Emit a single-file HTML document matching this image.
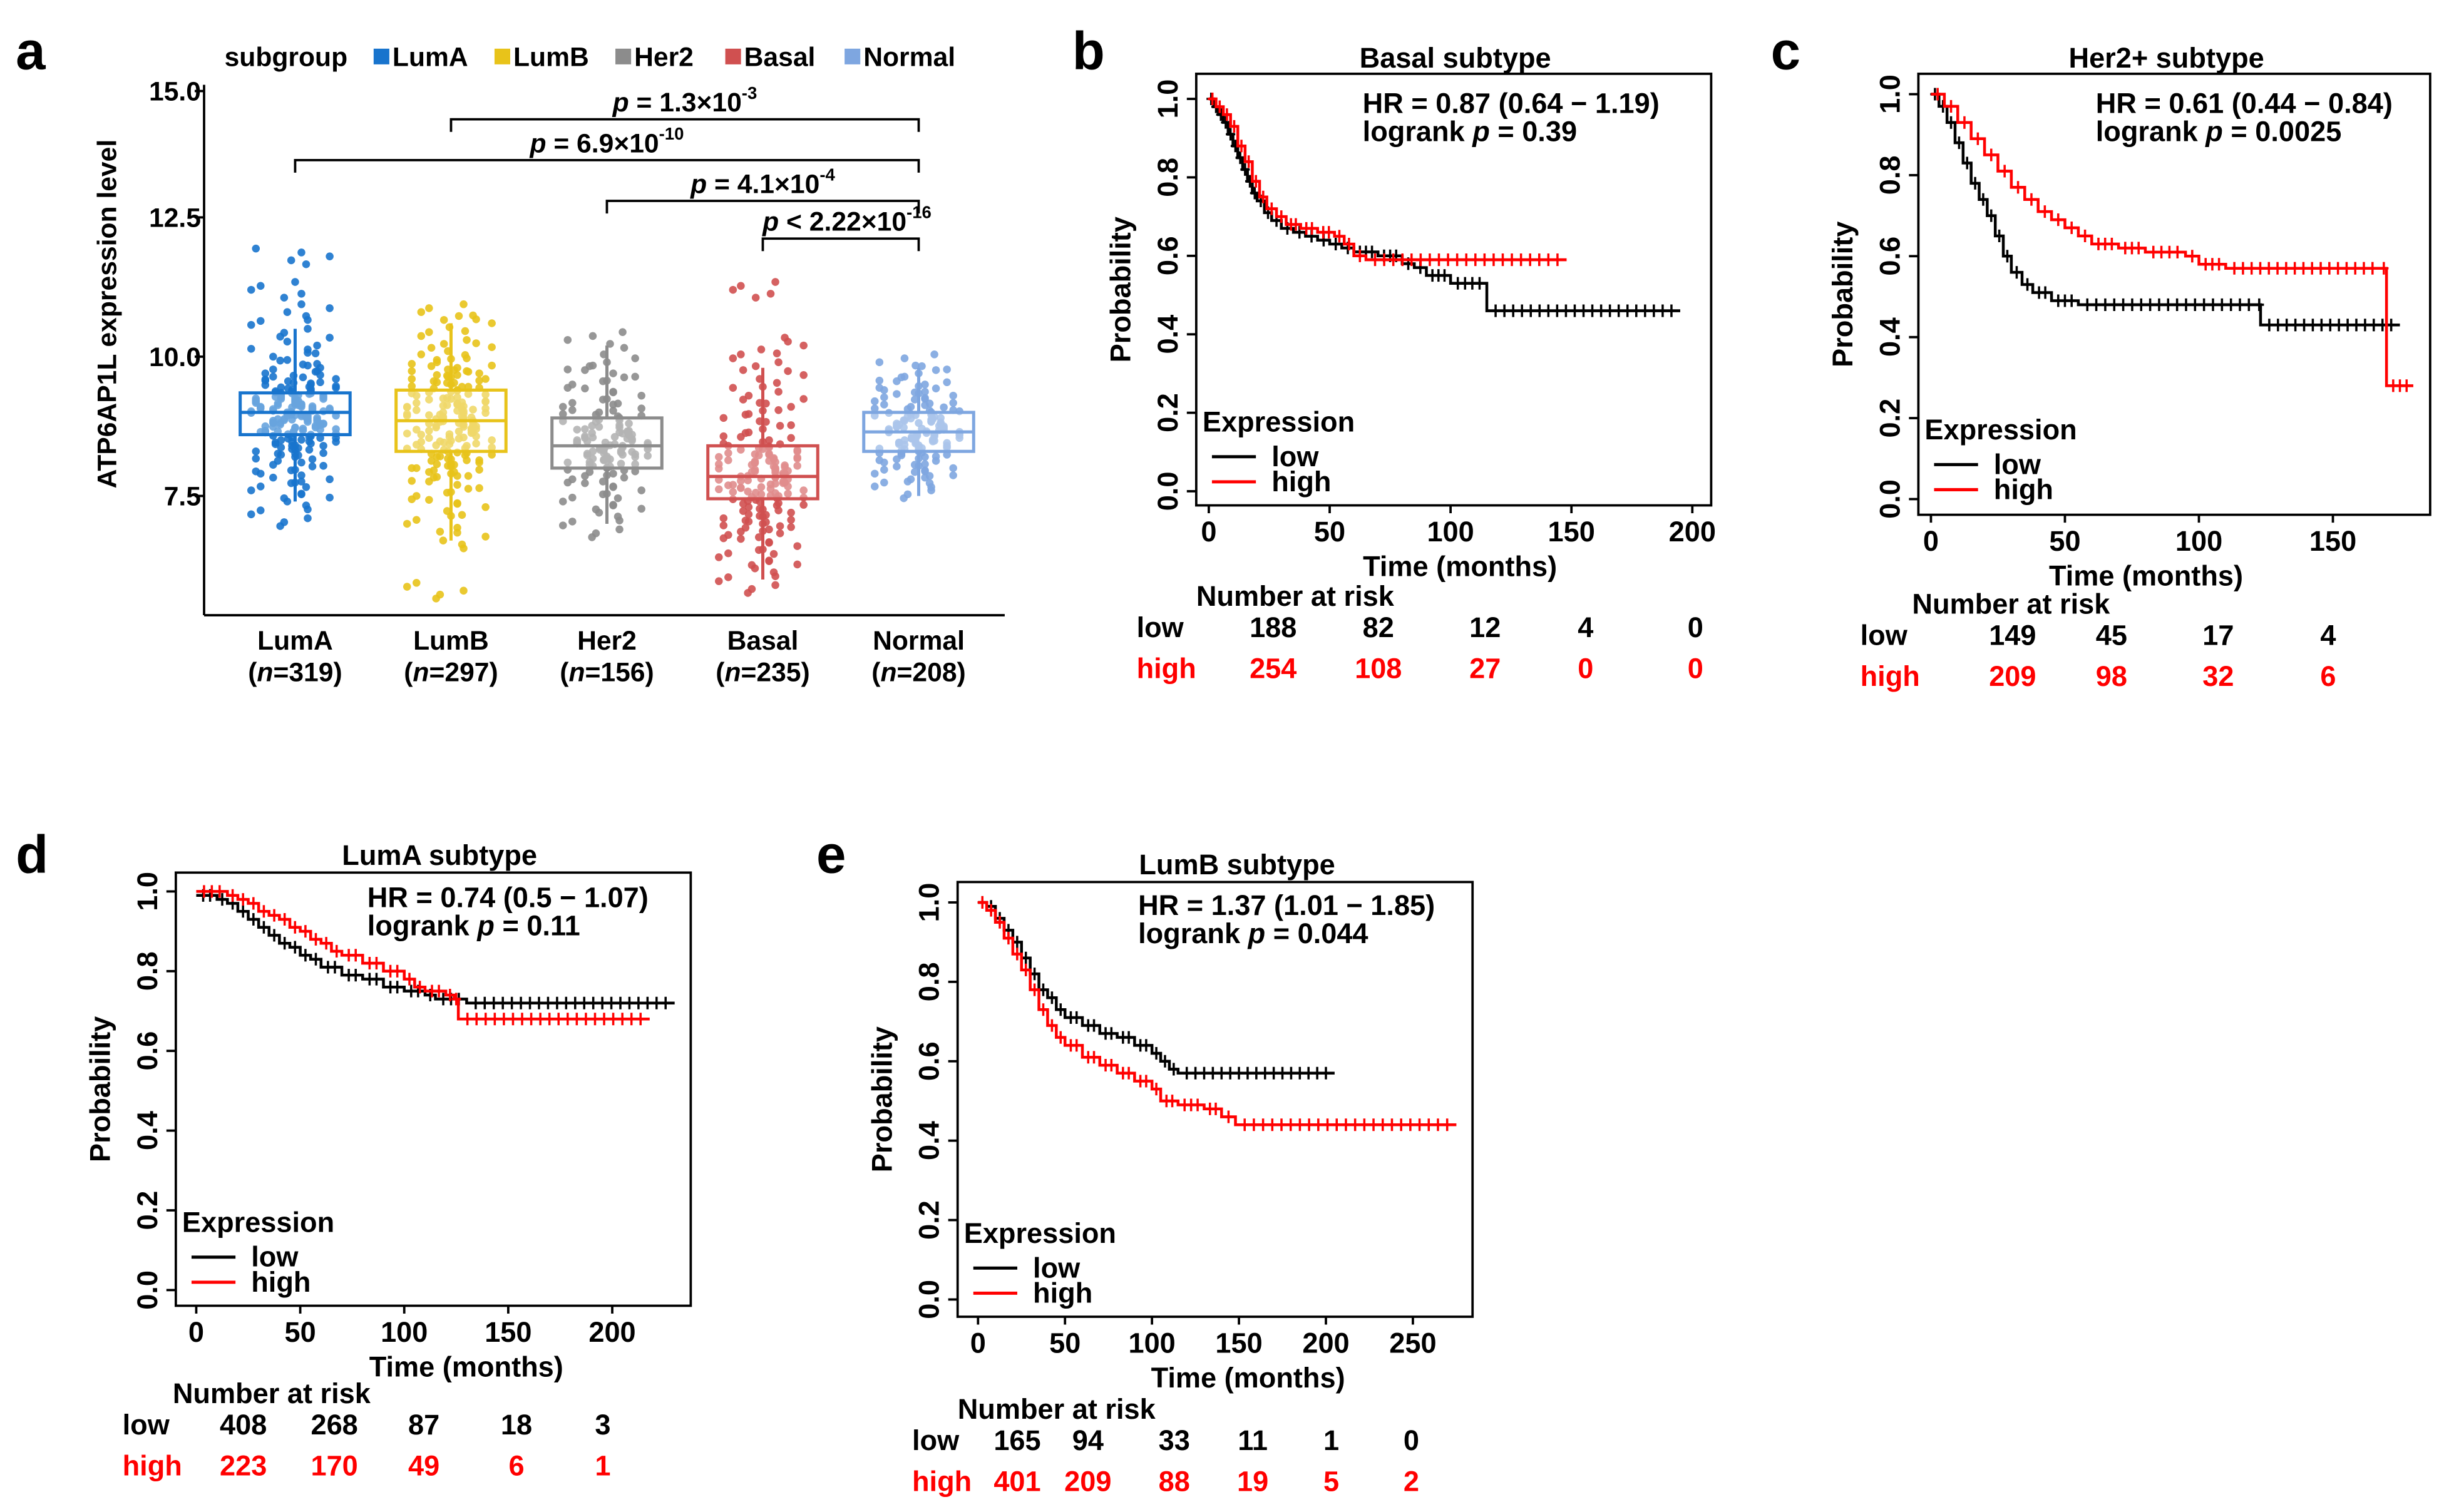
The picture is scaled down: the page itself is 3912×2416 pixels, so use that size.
<!DOCTYPE html>
<html><head><meta charset="utf-8"><style>
html,body{margin:0;padding:0;background:#fff}
svg{display:block}
text{font-family:"Liberation Sans",Arial,sans-serif;font-weight:bold}
</style></head><body>
<svg id="fig" width="3912" height="2416" viewBox="0 0 1560 963.4" xmlns="http://www.w3.org/2000/svg"></svg>
<script>
// ---------- Panel a data ----------
const groups=["LumA","LumB","Her2","Basal","Normal"];
const groupN=[319,297,156,235,208];
const groupColors=["#1874cd","#e8c31a","#8c8c8c","#d05050","#7ea6e0"];
const q1=[8.6,8.3,8.0,7.45,8.3];
const med=[9.0,8.85,8.4,7.85,8.65];
const q3=[9.35,9.4,8.9,8.4,9.0];
const whLo=[7.4,6.7,7.0,6.0,7.5];
const whHi=[10.5,10.6,10.2,9.8,9.8];
const aTicks=[7.5,10.0,12.5,15.0];
const ptsLumA=[7.1,7.4,7.6,7.8,7.9,8.1,8.2,8.3,8.4,8.5,8.55,8.6,8.7,8.75,8.8,8.85,8.9,8.95,9.0,9.0,9.05,9.1,9.15,9.2,9.25,9.3,9.35,9.4,9.5,9.6,9.7,9.8,10.0,10.2,10.5,10.8,11.2,11.8,8.65,9.1,8.95,9.2,8.8,9.45,8.4];
const ptsLumB=[5.8,6.7,7.0,7.3,7.5,7.7,7.9,8.0,8.1,8.2,8.3,8.4,8.5,8.6,8.7,8.8,8.85,8.9,9.0,9.1,9.2,9.3,9.4,9.5,9.6,9.7,9.9,10.1,10.3,10.6,10.8,8.75,8.95,9.05,8.55,9.25,8.35,9.6,8.0,9.8];
const ptsHer2=[6.9,7.2,7.4,7.6,7.8,7.9,8.0,8.1,8.2,8.3,8.35,8.4,8.45,8.5,8.6,8.7,8.8,8.9,9.0,9.1,9.3,9.5,9.7,9.9,10.3,8.25,8.55,8.15];
const ptsBasal=[5.9,6.2,6.4,6.6,6.8,6.9,7.0,7.1,7.2,7.3,7.4,7.5,7.6,7.7,7.8,7.85,7.9,8.0,8.1,8.2,8.3,8.4,8.5,8.7,8.9,9.1,9.3,9.6,9.9,10.2,11.2,7.95,7.65,8.05,7.55,8.25];
const ptsNormal=[7.6,7.8,7.9,8.0,8.1,8.2,8.3,8.35,8.4,8.5,8.55,8.6,8.65,8.7,8.75,8.8,8.9,9.0,9.1,9.2,9.3,9.4,9.5,9.7,9.9,8.45,8.85,8.95,8.6];
const groupPts=[ptsLumA,ptsLumB,ptsHer2,ptsBasal,ptsNormal];
const sigFrom=[1,0,2,3];
const sigTo=[4,4,4,4];
const sigText=["p = 1.3×10","p = 6.9×10","p = 4.1×10","p < 2.22×10"];
const sigExp=["-3","-10","-4","-16"];

// ---------- KM data ----------
const bLowT=[0,2,4,6,8,10,12,14,16,18,20,23,26,30,35,40,45,50,55,60,70,80,85,90,100,115,195];
const bLowS=[1,.98,.96,.94,.91,.88,.85,.82,.79,.76,.74,.71,.69,.67,.66,.65,.64,.63,.62,.61,.6,.58,.57,.55,.53,.46,.46];
const bHighT=[0,3,6,9,12,15,18,21,24,28,32,38,45,52,56,60,65,148];
const bHighS=[1,.98,.96,.93,.88,.84,.79,.75,.72,.7,.68,.67,.66,.65,.63,.6,.59,.59];
const cLowT=[0,3,6,9,12,15,18,21,24,27,30,34,38,45,55,122,123,175];
const cLowS=[1,.97,.93,.88,.83,.78,.74,.7,.65,.6,.56,.53,.51,.49,.48,.48,.43,.43];
const cHighT=[0,5,10,15,20,25,30,35,40,45,50,55,60,70,80,95,100,110,168,170,180];
const cHighS=[1,.97,.93,.89,.85,.81,.77,.74,.71,.69,.67,.65,.63,.62,.61,.6,.58,.57,.57,.28,.28];
const dLowT=[0,10,15,20,25,30,35,40,45,50,55,60,70,80,90,100,110,115,130,230];
const dLowS=[.99,.98,.97,.95,.93,.91,.89,.87,.86,.84,.83,.81,.79,.78,.76,.75,.74,.73,.72,.72];
const dHighT=[0,15,20,25,30,35,40,45,50,55,60,65,70,80,90,100,105,110,120,124,126,218];
const dHighS=[1,.99,.98,.97,.95,.94,.93,.91,.9,.88,.87,.85,.84,.82,.8,.78,.76,.75,.74,.73,.68,.68];
const eLowT=[0,5,10,15,20,25,30,35,40,45,50,60,70,80,90,100,105,110,115,205];
const eLowS=[1,.99,.96,.93,.9,.86,.82,.78,.76,.73,.71,.69,.67,.66,.64,.62,.6,.58,.57,.57];
const eHighT=[0,5,10,15,20,25,30,35,40,45,50,60,70,80,90,100,105,115,130,140,148,275];
const eHighS=[1,.98,.95,.91,.87,.83,.78,.73,.69,.66,.64,.61,.59,.57,.55,.53,.5,.49,.48,.46,.44,.44];
const riskB=[["188","82","12","4","0"],["254","108","27","0","0"]];
const riskC=[["149","45","17","4"],["209","98","32","6"]];
const riskD=[["408","268","87","18","3"],["223","170","49","6","1"]];
const riskE=[["165","94","33","11","1","0"],["401","209","88","19","5","2"]];

const NS="http://www.w3.org/2000/svg";
const svg=document.getElementById('fig');
function mk(tag,attrs,parent,txt){const e=document.createElementNS(NS,tag);for(const k in attrs)e.setAttribute(k,attrs[k]);if(txt!==undefined)e.textContent=txt;(parent||svg).appendChild(e);return e;}
function T(x,y,s,size,opt,name){opt=opt||{};const e=mk('text',Object.assign({x:x,y:y,'font-size':size},opt),null,s);return e;}

[["a",10,44],["b",683,44],["c",1128,44],["d",10,556],["e",520,556]].forEach(p=>{T(p[1],p[2],p[0],34,{},'panel-letter');});

// ---------- Panel a ----------
const ay=v=>316-(v-7.5)*35.5;
const gx=i=>188+i*99.3;
mk('line',{x1:130,y1:54,x2:130,y2:392,stroke:'#000','stroke-width':1.5,});
mk('line',{x1:130,y1:392,x2:640,y2:392,stroke:'#000','stroke-width':1.5,});
aTicks.forEach(v=>{const yy=v===15?58:ay(v);mk('line',{x1:124,y1:yy,x2:130,y2:yy,stroke:'#000','stroke-width':1.5,});T(128,yy+6,v.toFixed(1),17,{'text-anchor':'end'},'a-tick-label');});
T(0,0,"ATP6AP1L expression level",17,{'text-anchor':'middle',transform:'translate(74,200) rotate(-90)'},'a-y-axis-title');
const jitter=[-22,10,-5,18,-14,4,26,-28,-9,14,0,-19,22,-2,8,-25,16];
groups.forEach((g,i)=>{
  const cx=gx(i),c=groupColors[i];
  groupPts[i].forEach((v,k)=>{
    for(let r=0;r<5;r++){
      const dx=jitter[(k*5+r*7)%jitter.length]*(r>=3?0.5:1);
      const dy=(r-2)*2.5;
      const p=mk('circle',{cx:cx+dx,cy:ay(v)+dy,r:2.5,fill:c,opacity:0.9});
      
      
    }
  });
  mk('line',{x1:cx,y1:ay(whLo[i]),x2:cx,y2:ay(q1[i]),stroke:c,'stroke-width':2,});
  mk('line',{x1:cx,y1:ay(q3[i]),x2:cx,y2:ay(whHi[i]),stroke:c,'stroke-width':2,});
  mk('rect',{x:cx-35,y:ay(q3[i]),width:70,height:ay(q1[i])-ay(q3[i]),fill:'rgba(255,255,255,0.35)',stroke:c,'stroke-width':2,});
  mk('line',{x1:cx-35,y1:ay(med[i]),x2:cx+35,y2:ay(med[i]),stroke:c,'stroke-width':2,});
  T(cx,414,g,17,{'text-anchor':'middle'},'a-x-label');
  const n=T(cx,434,"",17,{'text-anchor':'middle'},'a-n-label');
  n.innerHTML='(<tspan font-style="italic">n</tspan>='+groupN[i]+')';
});
T(143,42,"subgroup",17,{},'a-legend-title');
const legX=[238,315,392,462,538];
groups.forEach((g,i)=>{const r=mk('rect',{x:legX[i],y:31,width:10,height:10,fill:groupColors[i]});T(legX[i]+12,42,g,17,{},'legend-entry');});
const sigY=[76,102,128,152];
sigFrom.forEach((f,k)=>{
  const x1=gx(f),x2=gx(sigTo[k]),y=sigY[k];
  mk('path',{d:`M${x1},${y+8}V${y}H${x2}V${y+8}`,fill:'none',stroke:'#000','stroke-width':1.5,});
  const t=T((x1+x2)/2+(k===3?4:0),y-5,"",17,{'text-anchor':'middle'},'sig-label');
  t.innerHTML='<tspan font-style="italic">p</tspan>'+sigText[k].slice(1)+'<tspan font-size="11" dy="-8">'+sigExp[k]+'</tspan>';
});

// ---------- KM panels ----------
function km(cfg){
  const sx=t=>cfg.x0+t*cfg.kx;
  const sy=s=>cfg.y0-(cfg.y0-cfg.y1)*s;
  const bot=cfg.by+cfg.bh;
  mk('rect',{x:cfg.bx,y:cfg.by,width:cfg.bw,height:cfg.bh,fill:'none',stroke:'#000','stroke-width':1.5,});
  T(cfg.tx,cfg.ty,cfg.title,18,{'text-anchor':'middle'},cfg.id+'-title');
  cfg.xt.forEach(v=>{mk('line',{x1:sx(v),y1:bot,x2:sx(v),y2:bot+5,stroke:'#000','stroke-width':1.5,});T(sx(v),bot+23,String(v),18,{'text-anchor':'middle'},'x-tick-label');});
  [0,0.2,0.4,0.6,0.8,1.0].forEach(v=>{mk('line',{x1:cfg.bx-6,y1:sy(v),x2:cfg.bx,y2:sy(v),stroke:'#000','stroke-width':1.5,});T(0,0,v.toFixed(1),18,{'text-anchor':'middle',transform:`translate(${cfg.bx-12},${sy(v)}) rotate(-90)`},'y-tick-label');});
  T(0,0,"Probability",18,{'text-anchor':'middle',transform:`translate(${cfg.bx-42},${cfg.by+cfg.bh/2}) rotate(-90)`},cfg.id+'-y-axis-title');
  T(cfg.bx+cfg.bw/2+cfg.tlo,bot+45,"Time (months)",18,{'text-anchor':'middle'},cfg.id+'-x-axis-title');
  T(cfg.hx,cfg.hy,cfg.hr,18,{},cfg.id+'-hr-text');
  const h2=T(cfg.hx,cfg.hy+18,"",18,{},cfg.id+'-logrank-text');
  h2.innerHTML='logrank <tspan font-style="italic">p</tspan> = '+cfg.p;
  [[cfg.lowT,cfg.lowS,'#000','low'],[cfg.highT,cfg.highS,'#f00','high']].forEach(c=>{
    let d=`M${sx(c[0][0])},${sy(c[1][0])}`;
    for(let i=1;i<c[0].length;i++){d+=`H${sx(c[0][i])}V${sy(c[1][i])}`;}
    mk('path',{d:d,fill:'none',stroke:c[2],'stroke-width':1.8,});
    for(let i=1;i<c[0].length;i++){
      const a=c[0][i-1],b=c[0][i],n=Math.max(1,Math.round((b-a)*cfg.kx/6));
      for(let k=1;k<=n;k++){const t=a+(b-a)*k/(n+1);const X=sx(t),Y=sy(c[1][i-1]);
        const m=mk('path',{d:`M${X-3},${Y}H${X+3}M${X},${Y-4}V${Y+4}`,stroke:c[2],'stroke-width':1.4});
        
        }
    }
  });
  T(cfg.bx+4,cfg.ly,"Expression",18,{},cfg.id+'-legend-title');
  mk('line',{x1:cfg.bx+10,y1:cfg.ly+16,x2:cfg.bx+38,y2:cfg.ly+16,stroke:'#000','stroke-width':2,});
  T(cfg.bx+48,cfg.ly+22,"low",18,{},'legend-low');
  mk('line',{x1:cfg.bx+10,y1:cfg.ly+32,x2:cfg.bx+38,y2:cfg.ly+32,stroke:'#f00','stroke-width':2,});
  T(cfg.bx+48,cfg.ly+38,"high",18,{},'legend-high');
  T(cfg.nx,cfg.ny,"Number at risk",18,{},cfg.id+'-risk-title');
  T(cfg.rlx,cfg.ny+20,"low",18,{},'risk-row-low');
  T(cfg.rlx,cfg.ny+46,"high",18,{fill:'#f00'},'risk-row-high');
  cfg.risk[0].forEach((v,i)=>{T(cfg.rx[i],cfg.ny+20,v,18,{'text-anchor':'middle'},'risk-low-value');T(cfg.rx[i],cfg.ny+46,cfg.risk[1][i],18,{'text-anchor':'middle',fill:'#f00'},'risk-high-value');});
}
km({id:'b',bx:762,by:47,bw:328,bh:275,x0:770,kx:1.54,y0:313,y1:63,xt:[0,50,100,150,200],title:"Basal subtype",tx:927,ty:43,tlo:4,
  hx:868,hy:72,hr:"HR = 0.87 (0.64 − 1.19)",p:"0.39",lowT:bLowT,lowS:bLowS,highT:bHighT,highS:bHighS,ly:275,
  nx:762,ny:386,rlx:724,rx:[811,878,946,1010,1080],risk:riskB});
km({id:'c',bx:1222,by:47,bw:326,bh:281,x0:1230,kx:1.707,y0:318,y1:60,xt:[0,50,100,150],title:"Her2+ subtype",tx:1380,ty:43,tlo:-18,
  hx:1335,hy:72,hr:"HR = 0.61 (0.44 − 0.84)",p:"0.0025",lowT:cLowT,lowS:cLowS,highT:cHighT,highS:cHighS,ly:280,
  nx:1218,ny:391,rlx:1185,rx:[1282,1345,1413,1483],risk:riskC});
km({id:'d',bx:112,by:556,bw:328,bh:276,x0:125,kx:1.325,y0:822,y1:568,xt:[0,50,100,150,200],title:"LumA subtype",tx:280,ty:551,tlo:21,
  hx:234,hy:578,hr:"HR = 0.74 (0.5 − 1.07)",p:"0.11",lowT:dLowT,lowS:dLowS,highT:dHighT,highS:dHighS,ly:785,
  nx:110,ny:894,rlx:78,rx:[155,213,270,329,384],risk:riskD});
km({id:'e',bx:610,by:562,bw:328,bh:277,x0:623,kx:1.108,y0:828,y1:575,xt:[0,50,100,150,200,250],title:"LumB subtype",tx:788,ty:557,tlo:21,
  hx:725,hy:583,hr:"HR = 1.37 (1.01 − 1.85)",p:"0.044",lowT:eLowT,lowS:eLowS,highT:eHighT,highS:eHighS,ly:792,
  nx:610,ny:904,rlx:581,rx:[648,693,748,798,848,899],risk:riskE});
</script>
</body></html>
